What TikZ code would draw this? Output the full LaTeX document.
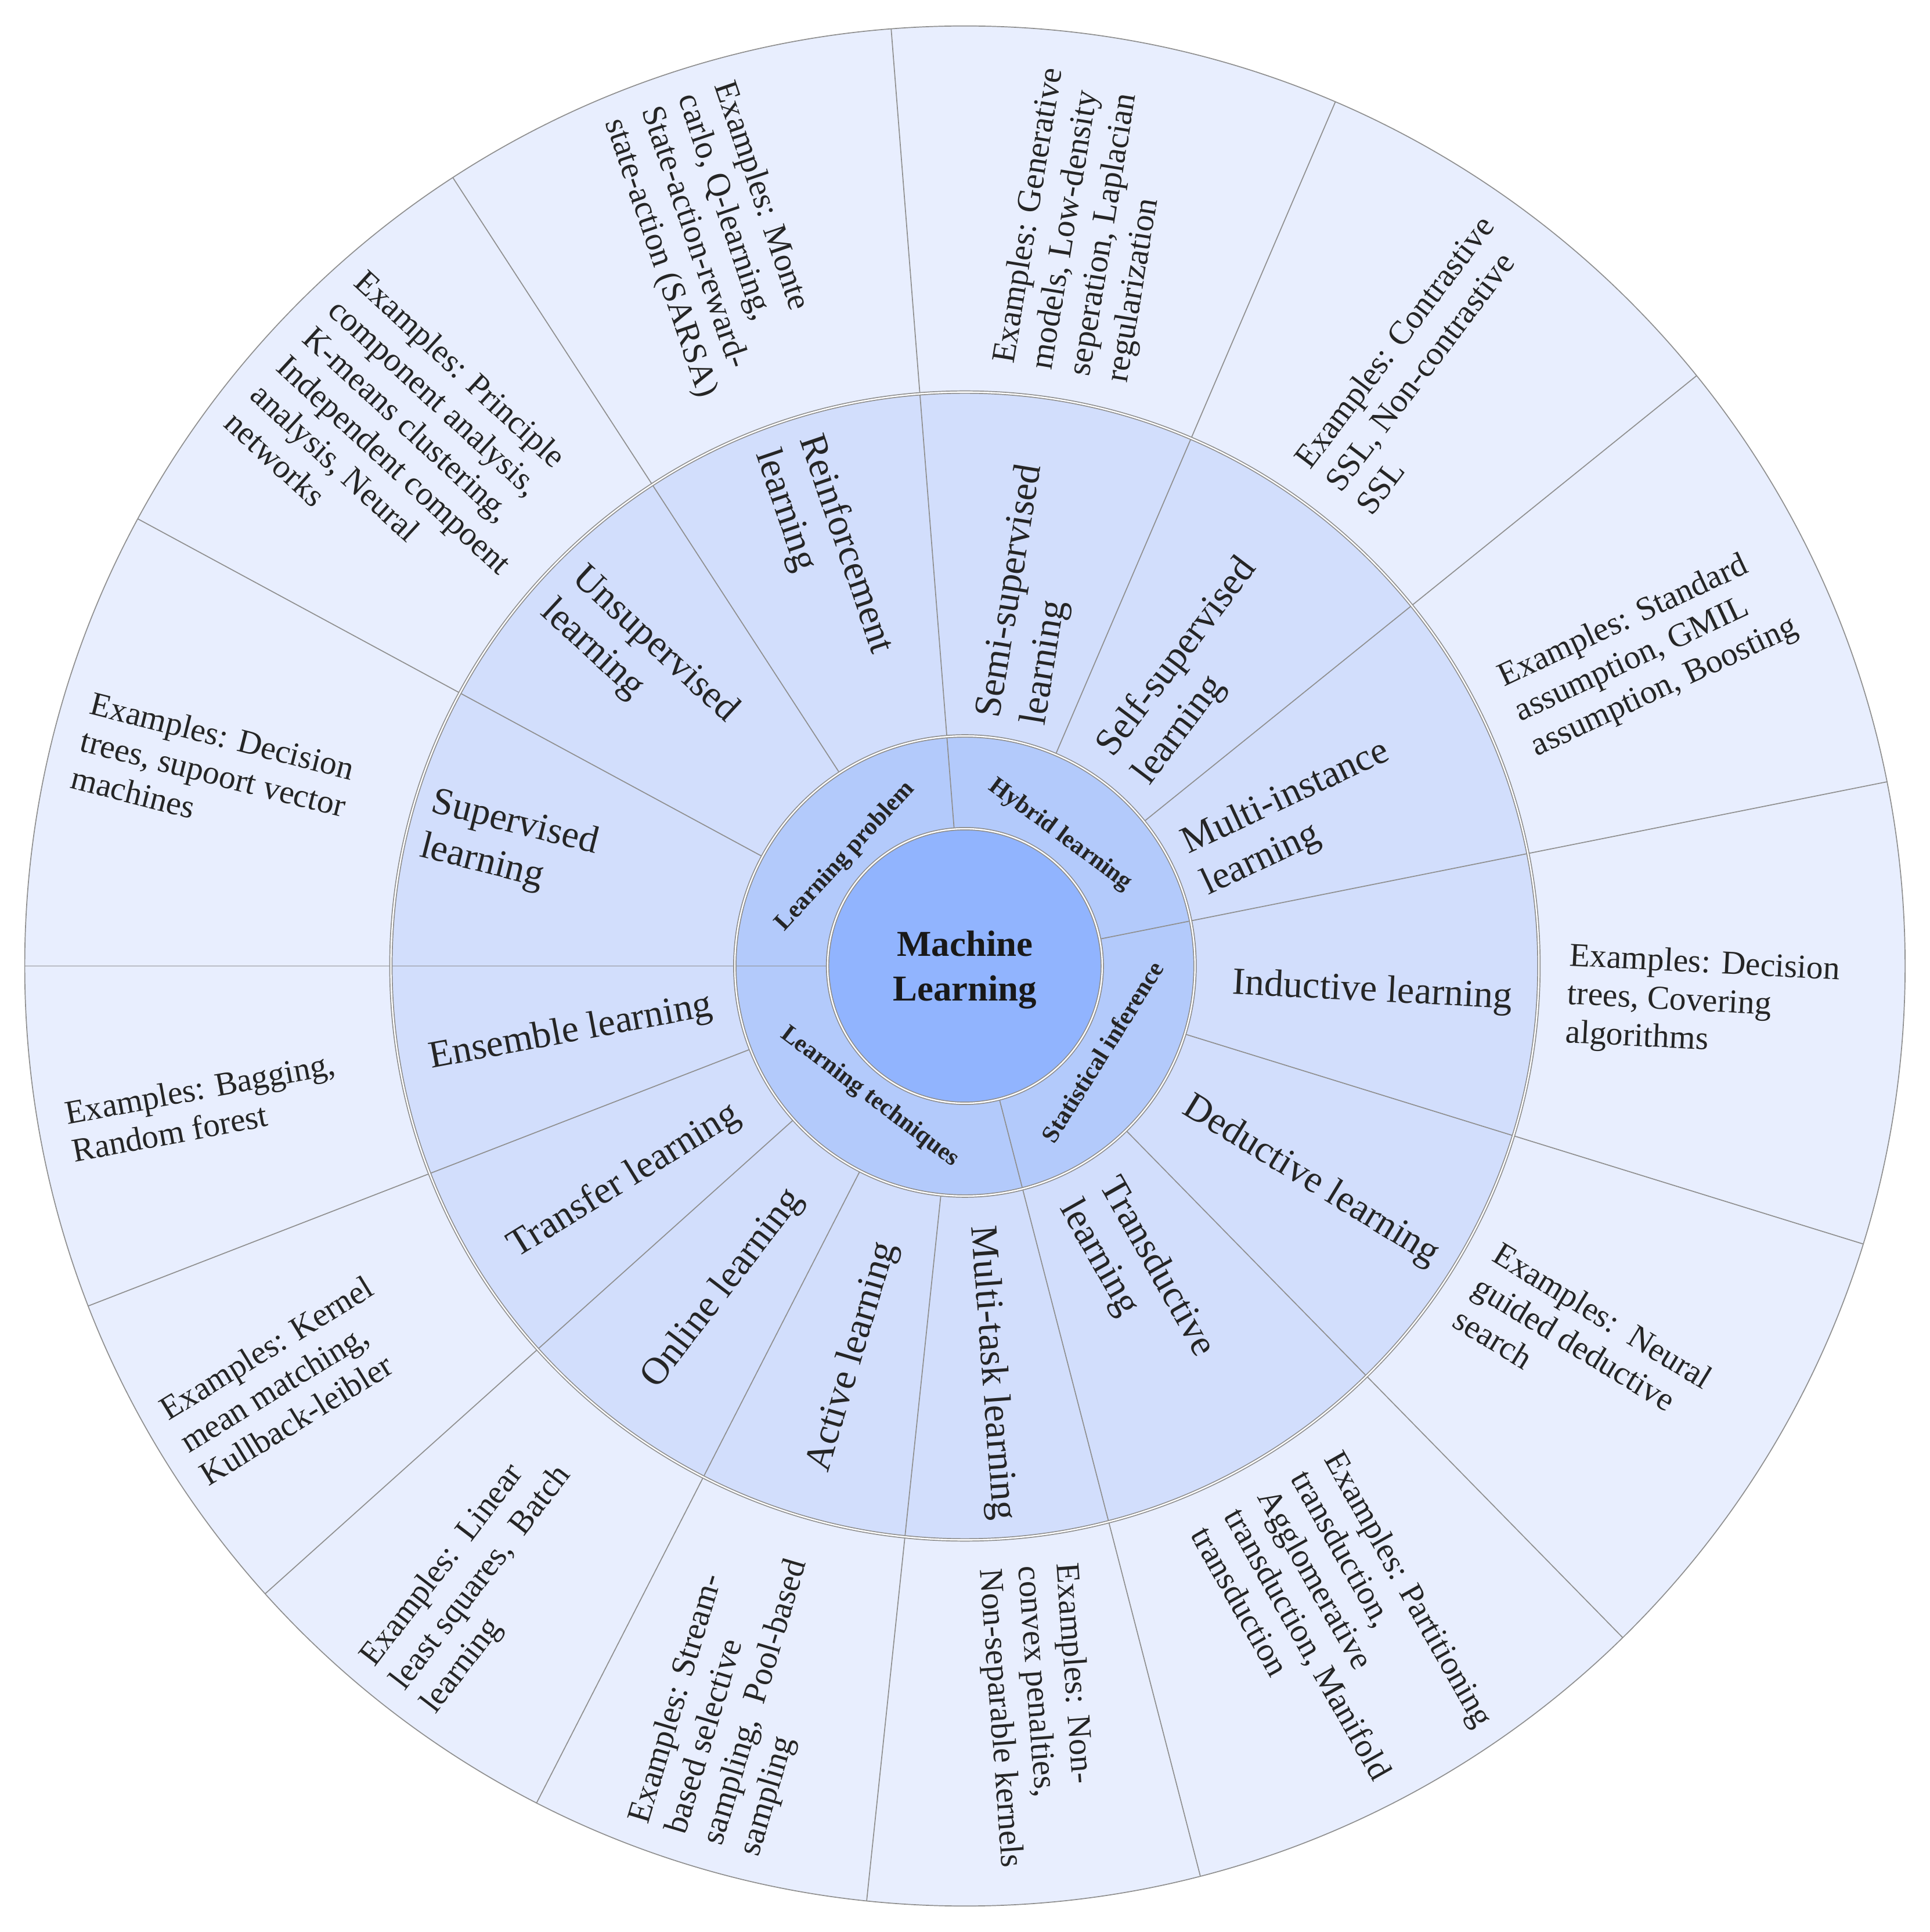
\documentclass[tikz,border=0pt]{standalone}
\usepackage{fontspec}
\setmainfont{Liberation Serif}
\usepackage{xcolor}
\definecolor{coreblue}{HTML}{91B4FE}
\definecolor{ringone}{HTML}{B3CAFB}
\definecolor{ringtwo}{HTML}{D2DEFC}
\definecolor{ringthree}{HTML}{E8EEFE}
\definecolor{edgegray}{HTML}{8F8F8F}
\definecolor{inkgray}{HTML}{252525}

\begin{document}
\begin{tikzpicture}[x=1pt,y=1pt,
  spoke/.style={draw=edgegray,line width=0.8pt},
  rim/.style={draw=edgegray,line width=0.8pt,double=white,double distance=1.1pt},
  hub/.style={font=\fontsize{29.5}{36}\selectfont\bfseries,text=black!90,align=center,inner sep=0pt},
  topic/.style={font=\fontsize{20}{24}\selectfont\bfseries,text=inkgray,inner sep=0pt},
  method/.style={font=\fontsize{31}{37}\selectfont,text=inkgray,align=left,inner sep=0pt},
  example/.style={font=\fontsize{27}{31}\selectfont,text=inkgray,align=left,inner sep=0pt}]
\useasboundingbox (-780,-781) rectangle (780,781);
\fill[ringthree] (0,0) circle (760);
\fill[ringtwo] (0,0) circle (464);
\fill[ringone] (0,0) circle (186);
\fill[coreblue] (0,0) circle (111);
\draw[spoke] (180:111) -- (180:760);
\draw[spoke] (94.5:111) -- (94.5:760);
\draw[spoke] (11.3:111) -- (11.3:760);
\draw[spoke] (-75.5:111) -- (-75.5:760);
\draw[spoke] (151.6:186) -- (151.6:760);
\draw[spoke] (123:186) -- (123:760);
\draw[spoke] (66.8:186) -- (66.8:760);
\draw[spoke] (38.9:186) -- (38.9:760);
\draw[spoke] (-17.2:186) -- (-17.2:760);
\draw[spoke] (-45.6:186) -- (-45.6:760);
\draw[spoke] (-96:186) -- (-96:760);
\draw[spoke] (-117.1:186) -- (-117.1:760);
\draw[spoke] (-138.1:186) -- (-138.1:760);
\draw[spoke] (-158.8:186) -- (-158.8:760);
\draw[spoke] (0,0) circle (760);
\draw[rim] (0,0) circle (464);
\draw[rim] (0,0) circle (186);
\draw[rim] (0,0) circle (111);
\node[hub] (ml) at (0,-3) {Machine\\Learning};
\node[topic,rotate=47.5] (problem) at (137.5:131) {Learning problem};
\node[topic,rotate=-36.5] (hybrid) at (54:131) {Hybrid learning};
\node[topic,rotate=58] (stat) at (-32:131) {Statistical inference};
\node[topic,rotate=-37] (tech) at (-126:131) {Learning techniques};
\node[method,rotate=-14.2] (sup) at (-368.5,97) {Supervised\\learning};
\node[method,rotate=-42.7] (unsup) at (-263.5,246) {Unsupervised\\learning};
\node[method,rotate=-71.25] (reinf) at (-114.5,335) {Reinforcement\\learning};
\node[method,rotate=80.65] (semi) at (55.5,300) {Semi-supervised\\learning};
\node[method,rotate=52.85] (selfsup) at (186.5,238) {Self-supervised\\learning};
\node[method,rotate=25.1] (multi) at (267.5,119) {Multi-instance\\learning};
\node[method,rotate=-2.95] (induct) at (329.5,-21) {Inductive learning};
\node[method,rotate=-31.4] (deduct) at (279.5,-174) {Deductive learning};
\node[method,rotate=-60.55] (transd) at (138.5,-253) {Transductive\\learning};
\node[method,rotate=-85.75] (mtask) at (21.5,-329) {Multi-task learning};
\node[method,rotate=73.45] (active) at (-90.5,-316) {Active learning};
\node[method,rotate=52.45] (online) at (-195.5,-261) {Online learning};
\node[method,rotate=31.55] (transfer) at (-275.5,-174) {Transfer learning};
\node[method,rotate=10.6] (ensemble) at (-318.5,-54) {Ensemble learning};
\node[example,rotate=-14.2] (supex) at (-607.5,156) {Examples: Decision\\trees, supoort vector\\machines};
\node[example,rotate=-42.7] (unsupex) at (-450.5,417) {Examples: Principle\\component analysis,\\K-means clustering,\\Independent compoent\\analysis, Neural\\networks};
\node[example,rotate=-71.25] (reinfex) at (-202.5,587) {Examples: Monte\\carlo, Q-learning,\\State-action-reward-\\state-action (SARSA)};
\node[example,rotate=80.65] (semiex) at (98.5,599) {Examples: Generative\\models, Low-density\\seperation, Laplacian\\regularization};
\node[example,rotate=52.85] (selfsupex) at (371.5,486) {Examples: Contrastive\\SSL, Non-contrastive\\SSL};
\node[example,rotate=25.1] (multiex) at (552.5,253) {Examples: Standard\\assumption, GMIL\\assumption, Boosting};
\node[example,rotate=-2.95] (inductex) at (596.5,-30) {Examples: Decision\\trees, Covering\\algorithms};
\node[example,rotate=-31.4] (deductex) at (499.5,-309) {Examples:\ \ Neural\\guided deductive\\search};
\node[example,rotate=-60.55] (transdex) at (305.5,-534) {Examples: Partitioning\\transduction,\\Agglomerative\\transduction, Manifold\\transduction};
\node[example,rotate=-85.75] (mtaskex) at (58.5,-606) {Examples: Non-\\convex penalties,\\Non-separable kernels};
\node[example,rotate=73.45] (activeex) at (-183.5,-591) {Examples: Stream-\\based selective\\sampling,\ \ Pool-based\\sampling};
\node[example,rotate=52.45] (onlineex) at (-390.5,-495) {Examples:\ \ Linear\\least squares,\ \ Batch\\learning};
\node[example,rotate=31.55] (transferex) at (-548.5,-335) {Examples: Kernel\\mean matching,\\Kullback-leibler};
\node[example,rotate=10.6] (ensembleex) at (-615.5,-114) {Examples: Bagging,\\Random forest};
\end{tikzpicture}
\end{document}
